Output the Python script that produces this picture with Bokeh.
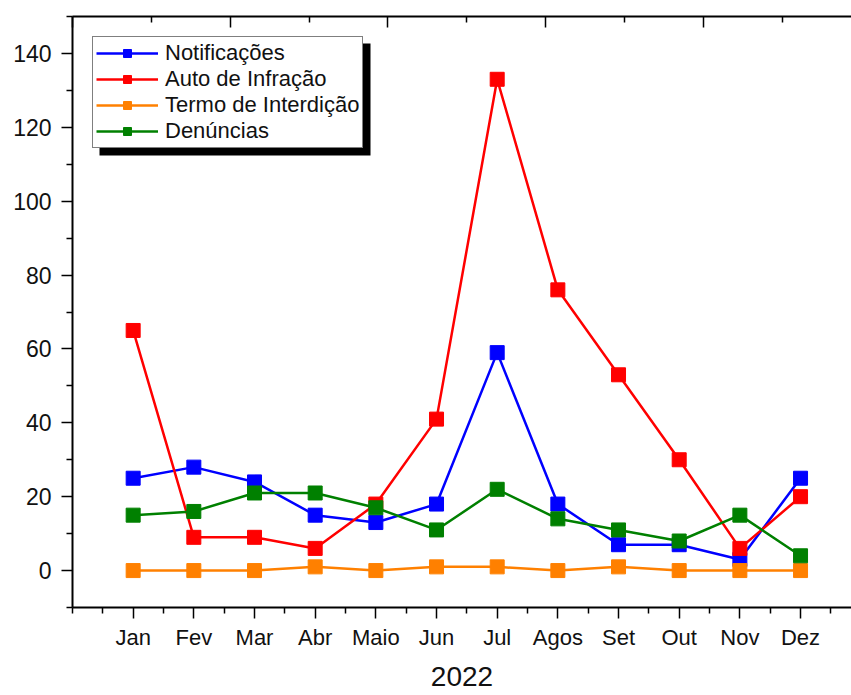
from bokeh.plotting import figure
from bokeh.models import (LinearAxis, FixedTicker, Range1d, Legend, LegendItem,
                          BoxAnnotation, ColumnDataSource, CustomLabelingPolicy)
from bokeh.embed import file_html
from bokeh.resources import INLINE
import numpy as np

months = ["Jan", "Fev", "Mar", "Abr", "Maio", "Jun", "Jul", "Agos", "Set", "Out", "Nov", "Dez"]
notificacoes = [25, 28, 24, 15, 13, 18, 59, 18, 7, 7, 3, 25]
auto_infracao = [65, 9, 9, 6, 18, 41, 133, 76, 53, 30, 6, 20]
termo_interdicao = [0, 0, 0, 1, 0, 1, 1, 0, 1, 0, 0, 0]
denuncias = [15, 16, 21, 21, 17, 11, 22, 14, 11, 8, 15, 4]
series_names = ["Notificações", "Auto de Infração", "Termo de Interdição", "Denúncias"]
series_colors = ["#0000FF", "#FF0000", "#FF8000", "#008000"]
year_label = "2022"
y_ticks = [0, 20, 40, 60, 80, 100, 120, 140]

FONT = "Liberation Sans"
TXT = "#111111"

x_pos = list(range(1, len(months) + 1))

p = figure(width=851, height=695, output_backend="svg", toolbar_location=None,
           x_range=Range1d(0, 12.84), y_range=Range1d(-10, 150),
           x_axis_type=None, y_axis_type=None,
           min_border_left=72, min_border_right=0, min_border_top=16, min_border_bottom=88)
p.outline_line_color = None
p.xgrid.visible = False
p.ygrid.visible = False
p.background_fill_color = "white"
p.border_fill_color = "white"

# bottom axis
xb = LinearAxis(ticker=FixedTicker(ticks=x_pos,
                                   minor_ticks=[0] + [i + 0.5 for i in range(0, 13)]))
xb.major_label_overrides = {i + 1: m for i, m in enumerate(months)}
xb.axis_label = year_label
xb.major_tick_out = 11
xb.major_tick_in = 0
xb.minor_tick_out = 6
xb.minor_tick_in = 0
xb.major_label_standoff = 6
xb.axis_label_standoff = 14
xb.major_label_text_font = FONT
xb.major_label_text_font_size = "22px"
xb.major_label_text_color = TXT
xb.axis_label_text_font = FONT
xb.axis_label_text_font_size = "28px"
xb.axis_label_text_font_style = "normal"
xb.axis_label_text_color = TXT
p.add_layout(xb, "below")

# left axis
yl = LinearAxis(ticker=FixedTicker(ticks=y_ticks, minor_ticks=[-10] + [t + 10 for t in y_ticks]))
yl.major_tick_out = 11
yl.major_tick_in = 0
yl.minor_tick_out = 6
yl.minor_tick_in = 0
yl.major_label_standoff = 10
yl.major_label_text_font = FONT
yl.major_label_text_font_size = "23px"
yl.major_label_text_color = TXT
p.add_layout(yl, "left")

# top axis (ticks only, no labels)
top_major = list(np.linspace(0, 13, 6))
top_minor = [t + 1.3 for t in top_major]
xt = LinearAxis(ticker=FixedTicker(ticks=top_major, minor_ticks=top_minor))
xt.major_tick_in = 11
xt.major_tick_out = 0
xt.minor_tick_in = 6
xt.minor_tick_out = 0
xt.major_label_text_font_size = "2px"
xt.major_label_standoff = 0
xt.major_label_policy = CustomLabelingPolicy(code="return new Set()")
p.add_layout(xt, "above")

for ax in [xb, yl, xt]:
    ax.axis_line_width = 2
    ax.axis_line_color = "black"
    ax.major_tick_line_width = 1.5
    ax.minor_tick_line_width = 1.5
    ax.major_tick_line_color = "black"
    ax.minor_tick_line_color = "black"

# data
all_vals = [notificacoes, auto_infracao, termo_interdicao, denuncias]
items = []
for name, vals, col in zip(series_names, all_vals, series_colors):
    src = ColumnDataSource(dict(x=x_pos, y=vals))
    lr = p.line("x", "y", source=src, line_color=col, line_width=2.5)
    sr = p.scatter("x", "y", source=src, marker="square", size=14,
                   fill_color=col, line_color=col)
    items.append(LegendItem(label=name, renderers=[lr, sr]))

# legend shadow
shadow = BoxAnnotation(left=99, right=370, top=43, bottom=155,
                       left_units="canvas", right_units="canvas",
                       top_units="canvas", bottom_units="canvas",
                       fill_color="black", fill_alpha=1.0, line_color=None)
p.add_layout(shadow)

legend = Legend(items=items, location="top_left", margin=20, padding=3,
                spacing=0, glyph_width=62, glyph_height=20, label_height=20,
                label_standoff=7, label_text_font=FONT, label_text_font_size="22px",
                label_text_color=TXT, border_line_color="black", border_line_width=1.5,
                background_fill_color="white", background_fill_alpha=1.0)
p.add_layout(legend)

open("out.html", "w").write(file_html(p, INLINE))
